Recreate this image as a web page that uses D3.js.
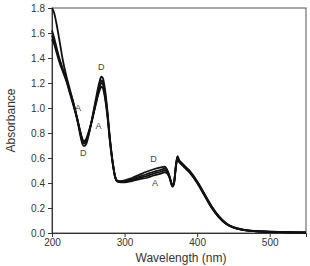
<!DOCTYPE html>
<html>
<head>
<meta charset="utf-8">
<script src="https://cdn.jsdelivr.net/npm/d3@7"></script>
<style>
  body { margin: 0; background: #fff; }
  svg text { font-family: "Liberation Sans", Arial, sans-serif; }
</style>
</head>
<body>
<div id="chart"></div>
<script>
// wavelengths (nm)
const wavelength = [200,203,206,210,215,220,225,230,235,239,242,244,247,250,255,260,265,268,270,273,276,280,284,287,290,295,300,310,320,330,340,350,355,358,362,366,368,371,373,375,378,385,390,400,410,420,430,440,450,460,470,480,500,525,550];

// absorbance of each spectrum (A ... D)
const absA = [1.55,1.51,1.45,1.37,1.29,1.21,1.11,1.01,0.90,0.81,0.75,0.735,0.75,0.80,0.90,1.02,1.13,1.17,1.16,1.08,0.95,0.72,0.54,0.445,0.41,0.405,0.405,0.415,0.43,0.44,0.46,0.475,0.485,0.48,0.44,0.37,0.39,0.54,0.60,0.57,0.55,0.51,0.48,0.40,0.30,0.20,0.125,0.072,0.043,0.028,0.019,0.014,0.009,0.005,0.003];
const absB = [1.58,1.53,1.47,1.39,1.30,1.22,1.12,1.02,0.91,0.81,0.74,0.725,0.74,0.79,0.90,1.03,1.15,1.20,1.19,1.10,0.97,0.73,0.55,0.45,0.415,0.41,0.41,0.425,0.44,0.455,0.475,0.49,0.50,0.495,0.445,0.375,0.395,0.545,0.605,0.575,0.555,0.515,0.485,0.405,0.305,0.205,0.127,0.073,0.044,0.029,0.019,0.014,0.009,0.006,0.004];
const absC = [1.62,1.56,1.49,1.40,1.31,1.23,1.13,1.03,0.91,0.80,0.73,0.715,0.73,0.78,0.90,1.04,1.17,1.22,1.21,1.12,0.98,0.74,0.55,0.45,0.415,0.41,0.415,0.43,0.45,0.47,0.49,0.505,0.515,0.505,0.45,0.38,0.40,0.55,0.61,0.58,0.56,0.52,0.49,0.41,0.31,0.21,0.13,0.075,0.045,0.03,0.02,0.015,0.01,0.006,0.004];
const absD = [1.80,1.76,1.68,1.55,1.38,1.25,1.14,1.03,0.90,0.78,0.71,0.695,0.71,0.77,0.91,1.06,1.20,1.25,1.24,1.15,1.00,0.75,0.55,0.45,0.42,0.415,0.42,0.44,0.465,0.49,0.51,0.525,0.53,0.515,0.455,0.385,0.405,0.555,0.615,0.585,0.565,0.525,0.495,0.415,0.315,0.215,0.135,0.078,0.047,0.031,0.021,0.016,0.011,0.007,0.005];

const xTicks = [200, 300, 400, 500];
const yTicks = [0, 0.2, 0.4, 0.6, 0.8, 1.0, 1.2, 1.4, 1.6, 1.8];

// curve labels: text, wavelength, absorbance
const labelText = ["D", "A", "A", "D", "D", "A"];
const labelWl   = [268, 236, 264, 243, 340, 342];
const labelAbs  = [1.33, 1.00, 0.86, 0.64, 0.59, 0.40];

const width = 310, height = 266;
const margin = {top: 8, right: 4, bottom: 33, left: 52};

const svg = d3.select("#chart").append("svg")
    .attr("width", width)
    .attr("height", height);

const x = d3.scaleLinear()
    .domain([200, 550])
    .range([margin.left, width - margin.right]);

const y = d3.scaleLinear()
    .domain([0, 1.8])
    .range([height - margin.bottom, margin.top]);

// frame (top and right)
svg.append("rect")
    .attr("x", x(200))
    .attr("y", y(1.8))
    .attr("width", x(550) - x(200))
    .attr("height", y(0) - y(1.8))
    .attr("fill", "none")
    .attr("stroke", "#555")
    .attr("stroke-width", 1);

const xAxis = svg.append("g")
    .attr("transform", `translate(0,${y(0)})`)
    .call(d3.axisBottom(x).tickValues(xTicks).tickSize(4).tickPadding(2).tickFormat(d3.format("d")));

const yAxis = svg.append("g")
    .attr("transform", `translate(${x(200)},0)`)
    .call(d3.axisLeft(y).tickValues(yTicks).tickSize(4).tickPadding(3).tickFormat(d3.format(".1f")));

[xAxis, yAxis].forEach(g => {
    g.select(".domain").attr("stroke", "#333");
    g.selectAll(".tick line").attr("stroke", "#333");
    g.selectAll(".tick text")
        .attr("fill", "#333")
        .style("font-size", "10px");
});

const line = d3.line()
    .x((d, i) => x(wavelength[i]))
    .y(d => y(d))
    .curve(d3.curveMonotoneX);

const series = [absA, absB, absC, absD];

svg.append("g")
    .selectAll("path")
    .data(series)
    .enter()
    .append("path")
    .attr("d", line)
    .attr("fill", "none")
    .attr("stroke", "#111")
    .attr("stroke-width", 1.8);

svg.append("g")
    .selectAll("text")
    .data(labelText)
    .enter()
    .append("text")
    .attr("x", (d, i) => x(labelWl[i]))
    .attr("y", (d, i) => y(labelAbs[i]))
    .attr("text-anchor", "middle")
    .attr("dominant-baseline", "central")
    .attr("fill", "#444")
    .style("font-size", "9px")
    .text(d => d);

// axis titles
svg.append("text")
    .attr("x", (x(200) + x(550)) / 2 + 2)
    .attr("y", 262)
    .attr("text-anchor", "middle")
    .attr("fill", "#333")
    .style("font-size", "12px")
    .text("Wavelength (nm)");

svg.append("text")
    .attr("transform", `translate(15,${(y(0) + y(1.8)) / 2}) rotate(-90)`)
    .attr("text-anchor", "middle")
    .attr("fill", "#333")
    .style("font-size", "12px")
    .text("Absorbance");
</script>
</body>
</html>
